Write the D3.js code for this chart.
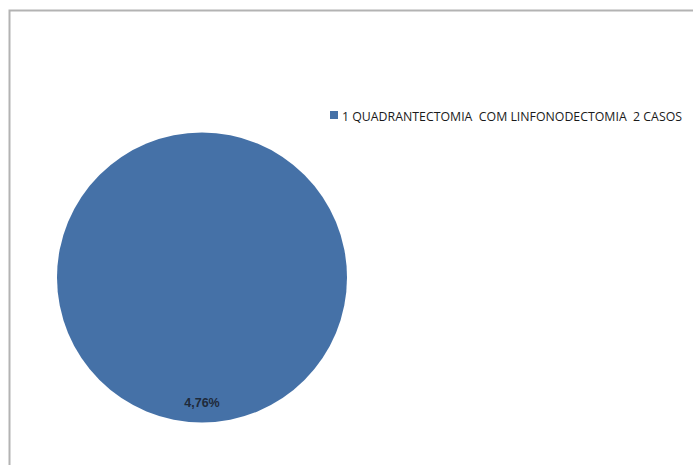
<!DOCTYPE html>
<html><head><meta charset="utf-8">
<script src="https://cdn.jsdelivr.net/npm/d3@7"></script>
<style>body{margin:0;background:#fff}</style>
</head><body>
<svg id="c" width="693" height="465"></svg>
<script>
const categories = ["1 QUADRANTECTOMIA  COM LINFONODECTOMIA  2 CASOS"];
const values = [2];
const labels = ["4,76%"];
const colors = ["#4571A7"];

const svg = d3.select("#c");
svg.append("path").attr("d","M9.5,465 L9.5,10.5 L693,10.5").attr("fill","none").attr("stroke","#b3b3b3").attr("stroke-width",2);

const cx=202, cy=277.5, r=145;
const pie = d3.pie().sort(null)(values);
const arc = d3.arc().innerRadius(0).outerRadius(r);
const g = svg.append("g").attr("transform",`translate(${cx},${cy})`);
g.selectAll("path").data(pie).join("path").attr("d",arc).attr("fill",(d,i)=>colors[i]);
g.selectAll("text").data(pie).join("text")
 .attr("x",0).attr("y",r-16)
 .attr("text-anchor","middle").attr("font-family","Liberation Sans, Arial, sans-serif")
 .attr("font-size",12.5).attr("font-weight","bold").attr("fill","#1f2a3a")
 .text((d,i)=>labels[i]);

const lg = svg.append("g").attr("transform","translate(330,111)");
categories.forEach((c,i)=>{
  lg.append("rect").attr("x",0).attr("y",i*18).attr("width",8).attr("height",8).attr("fill",colors[i]);
  lg.append("text").attr("x",12).attr("y",i*18+9.5).attr("font-family","Open Sans, sans-serif")
   .attr("font-size",12.5).attr("fill","#1a1a1a").attr("textLength",340).attr("lengthAdjust","spacingAndGlyphs")
   .style("white-space","pre").text(c);
});
</script>
</body></html>
